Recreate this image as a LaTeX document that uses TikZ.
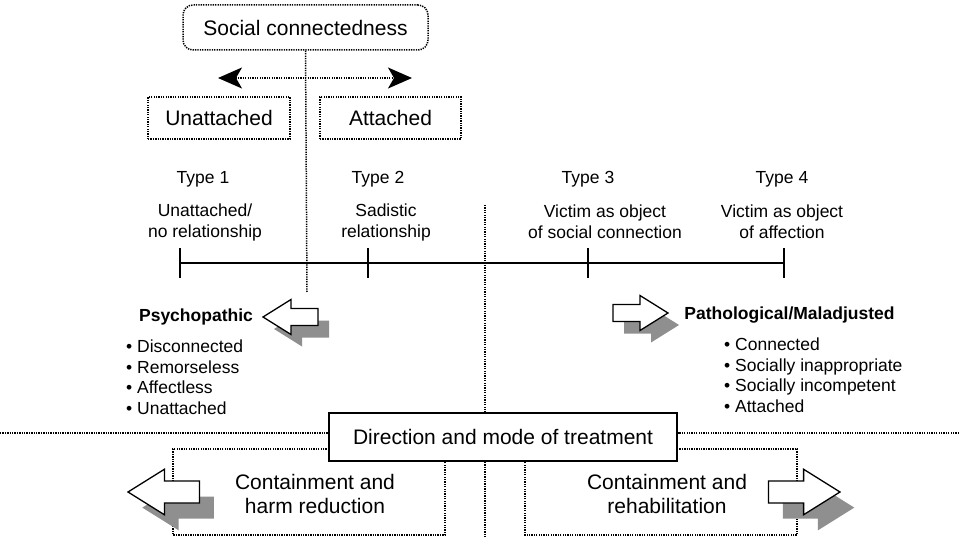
\documentclass[tikz,border=0pt]{standalone}
\usepackage{fontspec}
\setmainfont{Liberation Sans}
\usetikzlibrary{arrows.meta}
\definecolor{shadowgray}{HTML}{8F8F8F}
\begin{document}
\begin{tikzpicture}[x=1pt,y=-1pt,
  dots/.style={line width=1.5pt,dash pattern=on 1.3pt off 1.1pt},
  dotbox/.style={draw,dots,inner sep=0pt},
  bigtext/.style={font=\fontsize{21}{24}\selectfont,align=center},
  smalltext/.style={font=\fontsize{17.5}{21}\selectfont,align=center,inner sep=0pt},
  listtext/.style={font=\fontsize{17.5}{20.5}\selectfont,align=left,inner sep=0pt},
  headtext/.style={font=\fontsize{17.5}{20}\selectfont\bfseries,inner sep=0pt},
  axis/.style={line width=1.5pt},
  bigtip/.tip={Stealth[length=24pt,width=21pt,inset=6pt]},
  arrowshape/.style={insert path={(0,0) -- (-28,-17.5) -- (-28,-8.5) -- (-55,-8.5)
      -- (-55,8.5) -- (-28,8.5) -- (-28,17.5) -- cycle}},
  pics/blockarrow/.style={code={
      \begin{scope}[shift={(11,12)},xscale=#1]\fill[shadowgray,arrowshape];\end{scope}
      \begin{scope}[xscale=#1]\filldraw[fill=white,draw=black,line width=1.3pt,
          line join=miter,arrowshape];\end{scope}
  }}
]
\useasboundingbox (0,0) rectangle (959,540);

% --- social connectedness scale ---
\node[dotbox,rounded corners=10pt,minimum width=245pt,minimum height=45pt,
      bigtext] (sc) at (305.5,27.5) {Social connectedness};
\coordinate (scend) at (307,292);
\draw[dots] (sc.south) -- (scend);

\coordinate (dl) at (218,78);
\coordinate (dr) at (412,78);
\draw[dots,bigtip-bigtip] (dl) -- (dr);

\node[dotbox,minimum width=142pt,minimum height=42pt,bigtext] (unatt) at (219,118) {Unattached};
\node[dotbox,minimum width=141pt,minimum height=42pt,bigtext] (att) at (390.5,118) {Attached};

% --- typology axis ---
\coordinate (t1) at (180,263);
\coordinate (t2) at (368,263);
\coordinate (t3) at (588,263);
\coordinate (t4) at (784,263);
\draw[axis] (t1) -- (t4);
\foreach \t in {t1,t2,t3,t4}
  \draw[axis] ([yshift=-15pt]\t) -- ([yshift=15pt]\t);

\node[smalltext] (ty1) at (203,179) {Type 1};
\node[smalltext] (ty2) at (378,179) {Type 2};
\node[smalltext] (ty3) at (588,179) {Type 3};
\node[smalltext] (ty4) at (782,179) {Type 4};

\node[smalltext] (d1) at (205,222) {Unattached/\\no relationship};
\node[smalltext] (d2) at (386,222) {Sadistic\\relationship};
\node[smalltext] (d3) at (605,222) {Victim as object\\of social connection};
\node[smalltext] (d4) at (782,222) {Victim as object\\of affection};

% --- treatment divide ---
\coordinate (mt) at (485,205);
\coordinate (mb) at (485,537);
\draw[dots] (mt) -- (mb);

\coordinate (hl) at (0,433);
\coordinate (hr) at (959,433);

\draw[dots] (329,449) -- (173,449) -- (173,535) -- (445,535) -- (445,461);
\draw[dots] (677,449) -- (797,449) -- (797,535) -- (525,535) -- (525,461);

\node[draw,fill=white,line width=1.6pt,minimum width=348pt,minimum height=48pt,
      bigtext] (tr) at (503,437) {Direction and mode of treatment};
\draw[dots] (hl) -- (hl -| tr.west);
\draw[dots] (hr) -- (hr -| tr.east);

% --- profiles ---
\node[headtext] (psy) at (196,317) {Psychopathic};
\node[listtext,anchor=north west] (psyl) at (126,340)
  {• Disconnected\\• Remorseless\\• Affectless\\• Unattached};
\pic (pa) at (263,317) {blockarrow=-1};

\node[headtext] (pat) at (789.5,315) {Pathological/Maladjusted};
\node[listtext,anchor=north west] (patl) at (724,338)
  {• Connected\\• Socially inappropriate\\• Socially incompetent\\• Attached};
\pic (pb) at (668,313) {blockarrow=1};

% --- treatment modes ---
\node[bigtext] (ctl) at (315,494) {Containment and\\harm reduction};
\node[bigtext] (ctr) at (667,494) {Containment and\\rehabilitation};
\pic[scale=1.3] (pc) at (128,492) {blockarrow=-1};
\pic[scale=1.3] (pd) at (840,492) {blockarrow=1};
\end{tikzpicture}
\end{document}
